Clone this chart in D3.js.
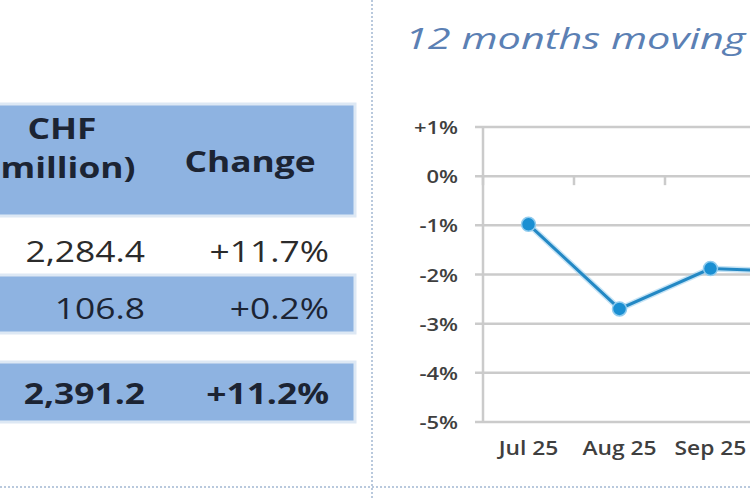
<!DOCTYPE html>
<html>
<head>
<meta charset="utf-8">
<script src="https://cdn.jsdelivr.net/npm/d3@7"></script>
<style>
  body { margin: 0; background: #fff; }
  svg { display: block; }
</style>
</head>
<body>
<script>
// table values (row labels are cut off in the picture)
const chfMillion = [2284.4, 106.8, 2391.2];
const changePct = [11.7, 0.2, 11.2];
const headers = [["CHF", "(million)"], ["Change"]];

// line chart values
const months = ["Jul 25", "Aug 25", "Sep 25", "Oct 25"];
const movingAvg = [-0.98, -2.7, -1.88, -1.95];
const yTicks = [1, 0, -1, -2, -3, -4, -5];

const W = 750, H = 500;
const svg = d3.select("body").append("svg")
    .attr("width", W)
    .attr("height", H);

const FONT = "'Open Sans', 'DejaVu Sans', sans-serif";
const SX = 1.22; // picture is stretched sideways

// place a text with a horizontal stretch
function stretched(g, x, y, txt, anchor, sx) {
    return g.append("text")
        .attr("transform", `translate(${x},${y}) scale(${sx},1)`)
        .attr("text-anchor", anchor)
        .text(txt);
}

// ---------- table ----------
const blue = "#8eb3e1";
const edge = "#dde8f4";
const table = svg.append("g").attr("font-family", FONT);

// header band + rows 2 and 3
const bands = [[104, 112], [275, 58], [362, 60]];
bands.forEach(([y, h]) => {
    table.append("rect")
        .attr("x", -5).attr("y", y)
        .attr("width", 360).attr("height", h)
        .attr("fill", blue)
        .attr("stroke", edge).attr("stroke-width", 3);
});

const colRight = [145, 329];
const colMid = [62, 250];

const hdr = table.append("g")
    .attr("font-size", 29)
    .attr("font-weight", 700)
    .attr("fill", "#1c2433");
stretched(hdr, colMid[0], 139, headers[0][0], "middle", SX);
stretched(hdr, colMid[0], 178, headers[0][1], "middle", SX);
stretched(hdr, colMid[1], 172, headers[1][0], "middle", SX);

const fmtNum = d3.format(",.1f");
const fmtPct = d => d3.format("+.1f")(d) + "%";
const rowBase = [262, 319, 404];

chfMillion.forEach((v, i) => {
    const bold = i === 2;
    const g = table.append("g")
        .attr("font-size", 29)
        .attr("font-weight", bold ? 700 : 400)
        .attr("fill", i === 0 ? "#2b2b2b" : "#1c2433");
    stretched(g, colRight[0], rowBase[i], fmtNum(v), "end", SX);
    stretched(g, colRight[1], rowBase[i], fmtPct(changePct[i]), "end", SX);
});

// ---------- dotted dividers ----------
svg.append("line")
    .attr("x1", 372).attr("x2", 372).attr("y1", 0).attr("y2", H)
    .attr("stroke", "#b9c9dd").attr("stroke-width", 2)
    .attr("stroke-dasharray", "2,2");
svg.append("line")
    .attr("x1", 0).attr("x2", W).attr("y1", 487).attr("y2", 487)
    .attr("stroke", "#b9c9dd").attr("stroke-width", 2)
    .attr("stroke-dasharray", "2,2");

// ---------- chart ----------
const title = svg.append("g")
    .attr("font-family", FONT)
    .attr("font-size", 29)
    .attr("font-style", "italic")
    .attr("fill", "#5b80b4");
stretched(title, 405, 49, "12 months moving average", "start", 1.43);

const x = d3.scaleBand().domain(months).range([483, 483 + 91 * months.length]);
const y = d3.scaleLinear().domain([-5, 1]).range([422, 127]);
const cx = m => x(m) + x.bandwidth() / 2;

const chart = svg.append("g");

// gridlines
chart.append("g")
    .selectAll("line")
    .data(yTicks)
    .join("line")
    .attr("x1", 475).attr("x2", W + 10)
    .attr("y1", d => y(d)).attr("y2", d => y(d))
    .attr("stroke", "#cbcbcb").attr("stroke-width", 2.5);

// value axis line
chart.append("line")
    .attr("x1", x.range()[0]).attr("x2", x.range()[0])
    .attr("y1", y(1)).attr("y2", y(-5))
    .attr("stroke", "#cbcbcb").attr("stroke-width", 2.5);

// category ticks hanging from the 0% line
chart.append("g")
    .selectAll("line")
    .data(months)
    .join("line")
    .attr("x1", d => x(d)).attr("x2", d => x(d))
    .attr("y1", y(0)).attr("y2", y(0) + 9)
    .attr("stroke", "#cbcbcb").attr("stroke-width", 2.5);

// y labels
const yl = chart.append("g")
    .attr("font-family", FONT)
    .attr("font-size", 18)
    .attr("font-weight", 600)
    .attr("fill", "#3f3f3f");
yTicks.forEach(t => {
    const lab = t > 0 ? "+" + t + "%" : t + "%";
    stretched(yl, 458, y(t) + 7, lab, "end", 1.22);
});

// x labels (only the ones whose centre is inside the picture)
const xl = chart.append("g")
    .attr("font-family", FONT)
    .attr("font-size", 19)
    .attr("font-weight", 600)
    .attr("fill", "#3f3f3f");
months.filter(m => cx(m) < W).forEach(m => {
    stretched(xl, cx(m), 455, m, "middle", 1.2);
});

// line + markers
const pts = months.map((m, i) => [cx(m), y(movingAvg[i])]);
chart.append("path")
    .attr("d", d3.line()(pts))
    .attr("fill", "none")
    .attr("stroke", "#9fd0ee")
    .attr("stroke-width", 6)
    .attr("opacity", 0.6);
chart.append("path")
    .attr("d", d3.line()(pts))
    .attr("fill", "none")
    .attr("stroke", "#2388c4")
    .attr("stroke-width", 3);
chart.append("g")
    .selectAll("circle")
    .data(pts)
    .join("circle")
    .attr("cx", d => d[0]).attr("cy", d => d[1])
    .attr("r", 7)
    .attr("fill", "#1a8fd2")
    .attr("stroke", "#8fcbee").attr("stroke-width", 1.5);
</script>
</body>
</html>
